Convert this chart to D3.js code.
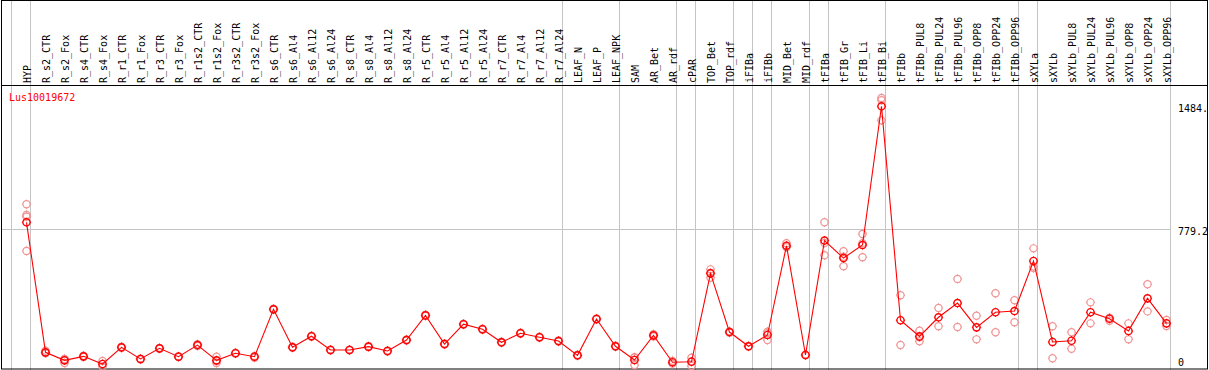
<!DOCTYPE html>
<html lang="en">
<head>
    <meta charset="UTF-8">
    <title>Lus10019672 expression profile</title>
    <script src="https://d3js.org/d3.v7.min.js"></script>
    <style>
        body { margin: 0; background: #fff; }
        text { font-family: "DejaVu Sans Mono", monospace; font-size: 10px; }
        .frame { fill: none; stroke: #000; stroke-width: 1; }
        .sep { stroke: #c4c4c4; stroke-width: 1; }
        .grid { stroke: #c4c4c4; stroke-width: 1; }
        .mean-line { fill: none; stroke: #ff0000; stroke-width: 1.1; }
        .rep-dot { fill: none; stroke: #f09393; stroke-width: 1.2; }
        .mean-dot { fill: none; stroke: #ff0000; stroke-width: 1.4; }
    </style>
</head>
<body>
<div id="chart-container"></div>
<script>
// Sample names, in plot order
const categories = ['HYP', 'R_s2_CTR', 'R_s2_Fox', 'R_s4_CTR', 'R_s4_Fox', 'R_r1_CTR', 'R_r1_Fox',
    'R_r3_CTR', 'R_r3_Fox', 'R_r1s2_CTR', 'R_r1s2_Fox', 'R_r3s2_CTR', 'R_r3s2_Fox',
    'R_s6_CTR', 'R_s6_Al4', 'R_s6_Al12', 'R_s6_Al24', 'R_s8_CTR', 'R_s8_Al4', 'R_s8_Al12', 'R_s8_Al24',
    'R_r5_CTR', 'R_r5_Al4', 'R_r5_Al12', 'R_r5_Al24', 'R_r7_CTR', 'R_r7_Al4', 'R_r7_Al12', 'R_r7_Al24',
    'LEAF_N', 'LEAF_P', 'LEAF_NPK', 'SAM', 'AR_Bet', 'AR_rdf', 'cPAR', 'TOP_Bet', 'TOP_rdf',
    'iFIBa', 'iFIBb', 'MID_Bet', 'MID_rdf', 'tFIBa', 'tFIB_Gr', 'tFIB_Li', 'tFIB_Bi',
    'tFIBb', 'tFIBb_PUL8', 'tFIBb_PUL24', 'tFIBb_PUL96', 'tFIBb_OPP8', 'tFIBb_OPP24', 'tFIBb_OPP96',
    'sXYLa', 'sXYLb', 'sXYLb_PUL8', 'sXYLb_PUL24', 'sXYLb_PUL96', 'sXYLb_OPP8', 'sXYLb_OPP24', 'sXYLb_OPP96'];

// Mean expression per sample
const means = [816, 67, 21, 44, 0, 96, 29, 90, 42, 109, 21, 62, 42,
    315, 96, 160, 81, 81, 100, 75, 138, 280, 115, 229, 200, 125, 177, 154, 132,
    50, 259, 102, 23, 165, 10, 13, 522, 184, 102, 167, 681, 52, 711, 610, 685, 1484,
    252, 159, 269, 351, 211, 298, 305, 593, 127, 134, 298, 261, 190, 378, 234];

// Replicate values per sample
const replicates = [
    [920, 858, 848, 651], [77, 62, 64], [29, 6, 27], [48, 40], [17, -15], [99, 92], [31, 26],
    [93, 88], [45, 40], [114, 104], [42, 6, 17], [65, 60], [46, 36],
    [318, 312], [99, 93], [163, 157], [83, 79], [83, 79], [103, 97], [78, 72], [141, 135],
    [284, 276], [118, 112], [232, 226], [203, 197], [128, 122], [180, 174], [157, 151], [135, 129],
    [53, 47], [262, 256], [105, 99], [36, 39, -6], [172, 158], [18, 2], [36, 15, -12],
    [545, 497, 524], [188, 180], [104, 100], [186, 138, 177], [695, 672, 676], [54, 50],
    [816, 626, 697], [649, 563, 618], [749, 615, 695], [1532, 1519, 1403],
    [396, 109], [192, 131, 154], [323, 217], [490, 213], [278, 142], [407, 183], [367, 240],
    [666, 561, 552], [217, 33], [183, 88], [355, 234], [267, 249], [234, 142], [459, 303], [253, 219]];

// Last sample of each group (a grey separator follows it)
const groupEnds = ['HYP', 'R_r7_Al24', 'LEAF_NPK', 'AR_rdf', 'cPAR', 'TOP_rdf', 'iFIBa', 'iFIBb',
    'MID_rdf', 'tFIBa', 'tFIB_Bi', 'tFIBb_OPP96', 'sXYLa', 'sXYLb_OPP96'];

// Y axis ticks and their labels
const yTicks = [0, 779.2, 1484];
const yTickLabels = ['0', '779.2', '1484.'];

const geneName = 'Lus10019672';

const W = 1209, H = 370;
const headerBottom = 85;

const svg = d3.select('#chart-container')
    .append('svg')
    .attr('width', W)
    .attr('height', H);

const xScale = d3.scalePoint()
    .domain(categories)
    .range([26.5, 1166.5]);

const step = xScale.step();

const yScale = d3.scaleLinear()
    .domain([0, 1484])
    .range([364, 106.3]);

const plotRight = Math.floor(xScale(categories[categories.length - 1]) + 4) + 0.5;

// Group separators (full height, through the header too)
const sepX = [xScale(categories[0]) - step].concat(groupEnds.map(c => xScale(c)))
    .map(x => Math.floor(x + 4) + 0.5);

svg.selectAll('.sep')
    .data(sepX)
    .enter()
    .append('line')
    .attr('class', 'sep')
    .attr('x1', d => d).attr('x2', d => d)
    .attr('y1', 0).attr('y2', H);

// Horizontal grid line at the middle tick
svg.append('line')
    .attr('class', 'grid')
    .attr('x1', 1).attr('x2', plotRight)
    .attr('y1', Math.round(yScale(yTicks[1])) + 0.5)
    .attr('y2', Math.round(yScale(yTicks[1])) + 0.5);

// Rotated sample names in the header
svg.selectAll('.cat-label')
    .data(categories)
    .enter()
    .append('text')
    .attr('class', 'cat-label')
    .attr('transform', d => `translate(${xScale(d) + 4},83) rotate(-90)`)
    .attr('text-anchor', 'start')
    .attr('fill', '#000')
    .text(d => d);

// Header separator and frame
svg.append('line')
    .attr('x1', 1).attr('x2', W - 1)
    .attr('y1', headerBottom + 0.5).attr('y2', headerBottom + 0.5)
    .attr('stroke', '#000');

svg.append('rect')
    .attr('class', 'frame')
    .attr('x', 1.5).attr('y', 0.5)
    .attr('width', W - 3).attr('height', H - 1.5);

// Gene name
svg.append('text')
    .attr('x', 9)
    .attr('y', 101)
    .attr('fill', '#ff0000')
    .text(geneName);

// Y tick labels on the right
svg.selectAll('.y-label')
    .data(yTicks)
    .enter()
    .append('text')
    .attr('class', 'y-label')
    .attr('x', 1178)
    .attr('y', d => Math.min(yScale(d) + 6, 366))
    .attr('fill', '#000')
    .text((d, i) => yTickLabels[i]);

// marker: circle with four tiny spikes
const spikes = 'M0,-4.6V-3.6M0,3.6V4.6M-4.6,0H-3.6M3.6,0H4.6';

function addMarkers(points, cls) {
    const g = svg.selectAll(null)
        .data(points)
        .enter()
        .append('g')
        .attr('class', cls)
        .attr('transform', d => `translate(${d.x},${d.y})`);
    g.append('circle').attr('r', 3.6);
    g.append('path').attr('d', spikes).attr('stroke-width', 1);
}

// Replicates first (underneath)
const repPoints = [];
replicates.forEach((reps, i) => {
    reps.forEach(v => repPoints.push({ x: xScale(categories[i]), y: yScale(v) }));
});
addMarkers(repPoints, 'rep-dot');

// Line through the means
const line = d3.line()
    .x((d, i) => xScale(categories[i]))
    .y(d => yScale(d));

svg.append('path')
    .datum(means)
    .attr('class', 'mean-line')
    .attr('d', line);

addMarkers(means.map((v, i) => ({ x: xScale(categories[i]), y: yScale(v) })), 'mean-dot');
</script>
</body>
</html>
